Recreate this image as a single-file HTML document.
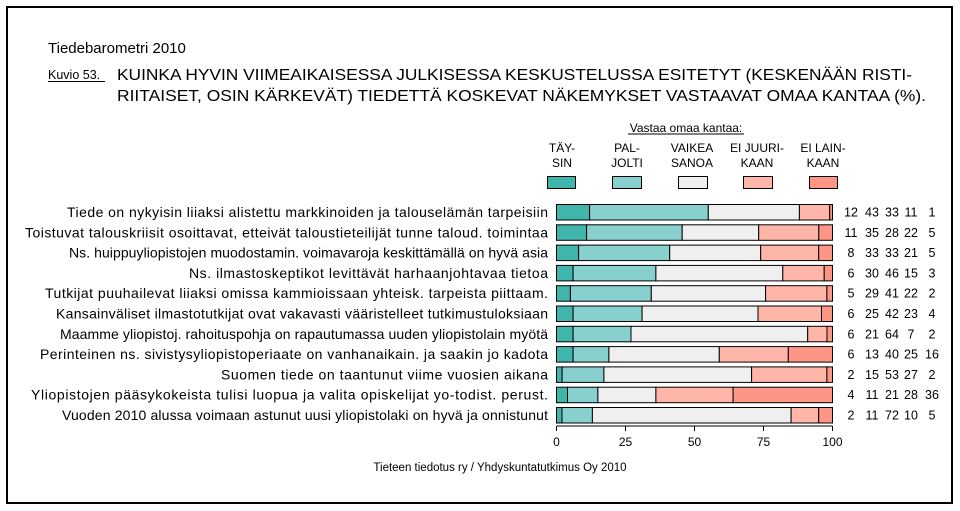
<!DOCTYPE html>
<html><head><meta charset="utf-8"><style>
html,body{margin:0;padding:0;background:#fff;}
svg{display:block;font-family:"Liberation Sans",Arial,sans-serif;}
.a{fill:#40b5ac}.b{fill:#88d0cd}.c{fill:#efefef}.d{fill:#ffb6a8}.e{fill:#ff9585}
</style></head><body>
<svg width="960" height="511" xmlns="http://www.w3.org/2000/svg">
<rect x="7" y="7" width="945" height="496" fill="#fff" stroke="#000" stroke-width="2"/>
<text x="48" y="53" font-size="15">Tiedebarometri 2010</text>
<text x="48" y="79" font-size="12.5">Kuvio 53.</text>
<line x1="48" y1="81.5" x2="105" y2="81.5" stroke="#000" stroke-width="1"/>
<text x="117" y="80" font-size="16" textLength="795" lengthAdjust="spacingAndGlyphs">KUINKA HYVIN VIIMEAIKAISESSA JULKISESSA KESKUSTELUSSA ESITETYT (KESKENÄÄN RISTI-</text>
<text x="117" y="101" font-size="16" textLength="809" lengthAdjust="spacingAndGlyphs">RIITAISET, OSIN KÄRKEVÄT) TIEDETTÄ KOSKEVAT NÄKEMYKSET VASTAAVAT OMAA KANTAA (%).</text>
<g font-size="12" text-anchor="middle">
<text x="686" y="132">Vastaa omaa kantaa:</text>
<line x1="628" y1="134" x2="744" y2="134" stroke="#000"/>
<text x="562" y="152">TÄY-</text><text x="562" y="167">SIN</text>
<text x="627" y="152">PAL-</text><text x="627" y="167">JOLTI</text>
<text x="692" y="152">VAIKEA</text><text x="692" y="167">SANOA</text>
<text x="757" y="152">EI JUURI-</text><text x="757" y="167">KAAN</text>
<text x="823" y="152">EI LAIN-</text><text x="823" y="167">KAAN</text>
</g>
<g stroke="#000" stroke-width="1">
<rect x="547.5" y="176.5" width="28" height="12" class="a"/>
<rect x="612.5" y="176.5" width="29" height="12" class="b"/>
<rect x="678.5" y="176.5" width="29" height="12" class="c"/>
<rect x="743.5" y="176.5" width="29" height="12" class="d"/>
<rect x="809.5" y="176.5" width="28" height="12" class="e"/>
</g>

<g font-size="14" lengthAdjust="spacingAndGlyphs">
<text x="67" y="217" textLength="481">Tiede on nykyisin liiaksi alistettu markkinoiden ja talouselämän tarpeisiin</text>
<text x="25" y="237.3" textLength="523">Toistuvat talouskriisit osoittavat, etteivät taloustieteilijät tunne taloud. toimintaa</text>
<text x="69" y="257.6" textLength="479">Ns. huippuyliopistojen muodostamin. voimavaroja keskittämällä on hyvä asia</text>
<text x="189" y="277.9" textLength="359">Ns. ilmastoskeptikot levittävät harhaanjohtavaa tietoa</text>
<text x="45" y="298.2" textLength="503">Tutkijat puuhailevat liiaksi omissa kammioissaan yhteisk. tarpeista piittaam.</text>
<text x="56" y="318.5" textLength="492">Kansainväliset ilmastotutkijat ovat vakavasti vääristelleet tutkimustuloksiaan</text>
<text x="60" y="338.8" textLength="488">Maamme yliopistoj. rahoituspohja on rapautumassa uuden yliopistolain myötä</text>
<text x="40" y="359.1" textLength="508">Perinteinen ns. sivistysyliopistoperiaate on vanhanaikain. ja saakin jo kadota</text>
<text x="221" y="379.4" textLength="327">Suomen tiede on taantunut viime vuosien aikana</text>
<text x="31" y="399.7" textLength="517">Yliopistojen pääsykokeista tulisi luopua ja valita opiskelijat yo-todist. perust.</text>
<text x="62" y="420" textLength="486">Vuoden 2010 alussa voimaan astunut uusi yliopistolaki on hyvä ja onnistunut</text>
</g>

<g stroke="#000" stroke-width="1">
<rect x="556.5" y="204.5" width="33.1" height="15.5" class="a"/><rect x="589.6" y="204.5" width="118.7" height="15.5" class="b"/><rect x="708.3" y="204.5" width="91.1" height="15.5" class="c"/><rect x="799.4" y="204.5" width="30.3" height="15.5" class="d"/><rect x="829.7" y="204.5" width="2.8" height="15.5" class="e"/>
<rect x="556.5" y="224.8" width="30.1" height="15.5" class="a"/><rect x="586.6" y="224.8" width="95.6" height="15.5" class="b"/><rect x="682.2" y="224.8" width="76.5" height="15.5" class="c"/><rect x="758.7" y="224.8" width="60.1" height="15.5" class="d"/><rect x="818.8" y="224.8" width="13.7" height="15.5" class="e"/>
<rect x="556.5" y="245.1" width="22.1" height="15.5" class="a"/><rect x="578.6" y="245.1" width="91.1" height="15.5" class="b"/><rect x="669.7" y="245.1" width="91" height="15.5" class="c"/><rect x="760.7" y="245.1" width="58" height="15.5" class="d"/><rect x="818.7" y="245.1" width="13.8" height="15.5" class="e"/>
<rect x="556.5" y="265.4" width="16.6" height="15.5" class="a"/><rect x="573.1" y="265.4" width="82.8" height="15.5" class="b"/><rect x="655.9" y="265.4" width="126.9" height="15.5" class="c"/><rect x="782.8" y="265.4" width="41.4" height="15.5" class="d"/><rect x="824.2" y="265.4" width="8.3" height="15.5" class="e"/>
<rect x="556.5" y="285.7" width="13.9" height="15.5" class="a"/><rect x="570.4" y="285.7" width="80.9" height="15.5" class="b"/><rect x="651.3" y="285.7" width="114.3" height="15.5" class="c"/><rect x="765.6" y="285.7" width="61.3" height="15.5" class="d"/><rect x="826.9" y="285.7" width="5.6" height="15.5" class="e"/>
<rect x="556.5" y="306" width="16.6" height="15.5" class="a"/><rect x="573.1" y="306" width="69" height="15.5" class="b"/><rect x="642.1" y="306" width="115.9" height="15.5" class="c"/><rect x="758" y="306" width="63.5" height="15.5" class="d"/><rect x="821.5" y="306" width="11" height="15.5" class="e"/>
<rect x="556.5" y="326.3" width="16.6" height="15.5" class="a"/><rect x="573.1" y="326.3" width="57.9" height="15.5" class="b"/><rect x="631" y="326.3" width="176.7" height="15.5" class="c"/><rect x="807.7" y="326.3" width="19.3" height="15.5" class="d"/><rect x="827" y="326.3" width="5.5" height="15.5" class="e"/>
<rect x="556.5" y="346.6" width="16.6" height="15.5" class="a"/><rect x="573.1" y="346.6" width="35.8" height="15.5" class="b"/><rect x="608.9" y="346.6" width="110.4" height="15.5" class="c"/><rect x="719.3" y="346.6" width="69" height="15.5" class="d"/><rect x="788.3" y="346.6" width="44.2" height="15.5" class="e"/>
<rect x="556.5" y="366.9" width="5.6" height="15.5" class="a"/><rect x="562.1" y="366.9" width="41.8" height="15.5" class="b"/><rect x="603.9" y="366.9" width="147.7" height="15.5" class="c"/><rect x="751.6" y="366.9" width="75.3" height="15.5" class="d"/><rect x="826.9" y="366.9" width="5.6" height="15.5" class="e"/>
<rect x="556.5" y="387.2" width="11" height="15.5" class="a"/><rect x="567.5" y="387.2" width="30.4" height="15.5" class="b"/><rect x="597.9" y="387.2" width="58" height="15.5" class="c"/><rect x="655.9" y="387.2" width="77.2" height="15.5" class="d"/><rect x="733.1" y="387.2" width="99.4" height="15.5" class="e"/>
<rect x="556.5" y="407.5" width="5.5" height="15.5" class="a"/><rect x="562" y="407.5" width="30.4" height="15.5" class="b"/><rect x="592.4" y="407.5" width="198.7" height="15.5" class="c"/><rect x="791.1" y="407.5" width="27.6" height="15.5" class="d"/><rect x="818.7" y="407.5" width="13.8" height="15.5" class="e"/>
</g>

<g font-size="12.5" text-anchor="middle">
<text y="216.5"><tspan x="851">12</tspan><tspan x="872">43</tspan><tspan x="892">33</tspan><tspan x="911">11</tspan><tspan x="932">1</tspan></text>
<text y="236.8"><tspan x="851">11</tspan><tspan x="872">35</tspan><tspan x="892">28</tspan><tspan x="911">22</tspan><tspan x="932">5</tspan></text>
<text y="257.1"><tspan x="851">8</tspan><tspan x="872">33</tspan><tspan x="892">33</tspan><tspan x="911">21</tspan><tspan x="932">5</tspan></text>
<text y="277.4"><tspan x="851">6</tspan><tspan x="872">30</tspan><tspan x="892">46</tspan><tspan x="911">15</tspan><tspan x="932">3</tspan></text>
<text y="297.7"><tspan x="851">5</tspan><tspan x="872">29</tspan><tspan x="892">41</tspan><tspan x="911">22</tspan><tspan x="932">2</tspan></text>
<text y="318"><tspan x="851">6</tspan><tspan x="872">25</tspan><tspan x="892">42</tspan><tspan x="911">23</tspan><tspan x="932">4</tspan></text>
<text y="338.3"><tspan x="851">6</tspan><tspan x="872">21</tspan><tspan x="892">64</tspan><tspan x="911">7</tspan><tspan x="932">2</tspan></text>
<text y="358.6"><tspan x="851">6</tspan><tspan x="872">13</tspan><tspan x="892">40</tspan><tspan x="911">25</tspan><tspan x="932">16</tspan></text>
<text y="378.9"><tspan x="851">2</tspan><tspan x="872">15</tspan><tspan x="892">53</tspan><tspan x="911">27</tspan><tspan x="932">2</tspan></text>
<text y="399.2"><tspan x="851">4</tspan><tspan x="872">11</tspan><tspan x="892">21</tspan><tspan x="911">28</tspan><tspan x="932">36</tspan></text>
<text y="419.5"><tspan x="851">2</tspan><tspan x="872">11</tspan><tspan x="892">72</tspan><tspan x="911">10</tspan><tspan x="932">5</tspan></text>
</g>

<line x1="556.5" y1="426" x2="832.5" y2="426" stroke="#000"/>
<g stroke="#000">
<line x1="556.5" y1="426" x2="556.5" y2="431"/>
<line x1="625.5" y1="426" x2="625.5" y2="431"/>
<line x1="694.5" y1="426" x2="694.5" y2="431"/>
<line x1="763.5" y1="426" x2="763.5" y2="431"/>
<line x1="832.5" y1="426" x2="832.5" y2="431"/>
</g>
<g font-size="12" text-anchor="middle">
<text x="556.5" y="446">0</text><text x="625.5" y="446">25</text><text x="694.5" y="446">50</text><text x="763.5" y="446">75</text><text x="832.5" y="446">100</text>
</g>
<text x="500" y="471" font-size="11.5" text-anchor="middle">Tieteen tiedotus ry / Yhdyskuntatutkimus Oy 2010</text>
</svg>
</body></html>
